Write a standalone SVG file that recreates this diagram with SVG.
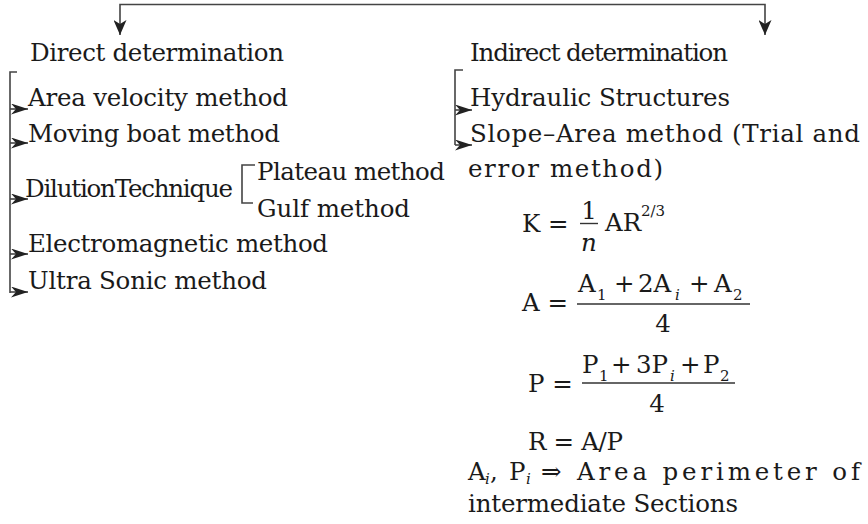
<svg xmlns="http://www.w3.org/2000/svg" width="868" height="524" viewBox="0 0 868 524">
<style>
text{font-family:"DejaVu Serif","Liberation Serif",serif;font-size:24.5px;fill:#1a1a1a}
.s{font-size:15px}
.it{font-style:italic}
.ln{fill:none;stroke:#444;stroke-width:1.6}
.bar{stroke:#333;stroke-width:1.4}
</style>
<defs>
<marker id="ahd" markerUnits="userSpaceOnUse" markerWidth="15" markerHeight="13" refX="15" refY="6.5" orient="auto"><path d="M0,0 L15,6.5 L0,13 L4,6.5 z" fill="#222"/></marker>
<marker id="ahs" markerUnits="userSpaceOnUse" markerWidth="17" markerHeight="11" refX="17" refY="5.5" orient="auto"><path d="M0,0 L17,5.5 L0,11 L5,5.5 z" fill="#222"/></marker>
</defs>
<g id="connectors">
<path class="ln" d="M440,4.5 H120 V35" marker-end="url(#ahd)"/>
<path class="ln" d="M440,4.5 H765 V35" marker-end="url(#ahd)"/>
<path class="ln" d="M17,72 H10 V293"/>
<path class="ln" d="M10,109 H28" marker-end="url(#ahs)"/>
<path class="ln" d="M10,143 H28" marker-end="url(#ahs)"/>
<path class="ln" d="M10,199 H28" marker-end="url(#ahs)"/>
<path class="ln" d="M10,254 H28" marker-end="url(#ahs)"/>
<path class="ln" d="M10,292 H28" marker-end="url(#ahs)"/>
<path class="ln" d="M255,165 H242 V203 H253"/>
<path class="ln" d="M463,70 H455 V145"/>
<path class="ln" d="M455,110 H472" marker-end="url(#ahs)"/>
<path class="ln" d="M455,145 H472" marker-end="url(#ahs)"/>
</g>
<g id="direct"><text x="30" y="61" textLength="254">Direct determination</text></g>
<g id="area-velocity"><text x="28" y="106" textLength="260">Area velocity method</text></g>
<g id="moving-boat"><text x="28" y="142" textLength="252">Moving boat method</text></g>
<g id="dilution"><text x="25" y="197" textLength="208">DilutionTechnique</text></g>
<g id="plateau"><text x="257" y="180" textLength="188">Plateau method</text></g>
<g id="gulf"><text x="257" y="217" textLength="153">Gulf method</text></g>
<g id="electromagnetic"><text x="28" y="252" textLength="300">Electromagnetic method</text></g>
<g id="ultrasonic"><text x="28" y="289" textLength="239">Ultra Sonic method</text></g>
<g id="indirect"><text x="470" y="61" textLength="258">Indirect determination</text></g>
<g id="hydraulic"><text x="470" y="106" textLength="260">Hydraulic Structures</text></g>
<g id="slope-area">
<text x="470" y="142" textLength="390">Slope–Area method (Trial and</text>
<text x="468" y="177" textLength="195">error method)</text>
</g>
<g id="formula-k">
<text x="522" y="232">K =</text>
<text x="589" y="219" text-anchor="middle">1</text>
<line class="bar" x1="580" y1="223.5" x2="598" y2="223.5"/>
<text x="589" y="251" text-anchor="middle" class="it">n</text>
<text x="605" y="231">AR</text>
<text x="641" y="216" class="s">2/3</text>
</g>
<g id="formula-a">
<text x="522" y="311">A =</text>
<text x="578" y="292">A</text><text x="597" y="300" class="s">1</text>
<text x="614" y="292">+</text>
<text x="638" y="292">2A</text><text x="675" y="300" class="s it">i</text>
<text x="689" y="292">+</text>
<text x="714" y="292">A</text><text x="733" y="300" class="s">2</text>
<line class="bar" x1="577" y1="304" x2="750" y2="304"/>
<text x="663" y="332" text-anchor="middle">4</text>
</g>
<g id="formula-p">
<text x="528" y="392">P =</text>
<text x="582" y="373">P</text><text x="599" y="381" class="s">1</text>
<text x="611" y="373">+</text>
<text x="636" y="373">3P</text><text x="670" y="381" class="s it">i</text>
<text x="680" y="373">+</text>
<text x="703" y="373">P</text><text x="720" y="381" class="s">2</text>
<line class="bar" x1="582" y1="383" x2="735" y2="383"/>
<text x="657" y="412" text-anchor="middle">4</text>
</g>
<g id="formula-r"><text x="528" y="450" textLength="95">R = A/P</text></g>
<g id="note">
<text x="468" y="480">A</text><text x="485" y="484" class="s it">i</text><text x="490" y="480">,</text>
<text x="509" y="480">P</text><text x="526" y="484" class="s it">i</text>
<text x="541" y="480" textLength="319">⇒ Area perimeter of</text>
<text x="468" y="512" textLength="270">intermediate Sections</text>
</g>
</svg>
